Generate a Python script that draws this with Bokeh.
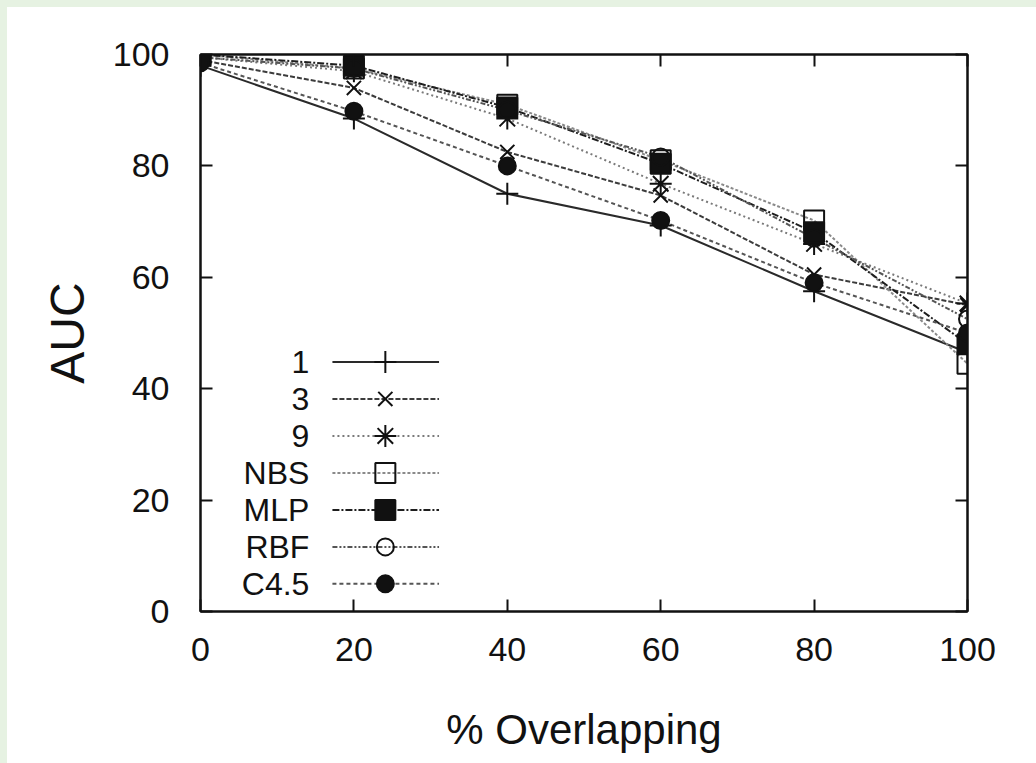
from bokeh.plotting import figure
from bokeh.models import Range1d, LinearAxis, FixedTicker, CustomJSTickFormatter, Spacer
from bokeh.layouts import row, column
from bokeh.core.properties import value
from bokeh.embed import file_html
from bokeh.resources import INLINE

# ---- data ----
overlap = [0, 20, 40, 60, 80, 100]
series_names = ["1", "3", "9", "NBS", "MLP", "RBF", "C4.5"]
auc_1 = [98.0, 88.5, 75.0, 69.3, 57.5, 46.5]
auc_3 = [99.0, 94.0, 82.5, 74.7, 60.5, 55.0]
auc_9 = [99.5, 97.0, 88.5, 76.8, 66.0, 55.3]
auc_nbs = [100.0, 97.5, 91.0, 81.0, 70.2, 44.5]
auc_mlp = [100.0, 98.0, 90.5, 80.4, 68.1, 48.0]
auc_rbf = [99.5, 97.5, 90.0, 81.6, 67.0, 52.5]
auc_c45 = [98.5, 89.8, 80.0, 70.2, 59.0, 50.0]
x_ticks = [0, 20, 40, 60, 80, 100]
y_ticks = [0, 20, 40, 60, 80, 100]

series_values = [auc_1, auc_3, auc_9, auc_nbs, auc_mlp, auc_rbf, auc_c45]

# ---- styles ----
styles = [
    dict(color="#2a2a2a", dash="solid", marker="cross", size=22, fill=True),
    dict(color="#3c3c3c", dash="5 2", marker="x", size=20, fill=True),
    dict(color="#7a7a7a", dash="2 3", marker="asterisk", size=22, fill=True),
    dict(color="#8a8a8a", dash="3 2", marker="square", size=20, fill=False),
    dict(color="#1e1e1e", dash="7 2 2 2", marker="square", size=20, fill=True),
    dict(color="#555555", dash="5 2 2 2 2 2", marker="circle", size=17, fill=False),
    dict(color="#555555", dash="4 3", marker="circle", size=17, fill=True),
]

FONT = "Liberation Sans"
EDGE = 7
BG = "#e6f2e2"

p = figure(width=1036 - EDGE, height=763 - EDGE, output_backend="svg", toolbar_location=None,
           x_range=Range1d(0, 100), y_range=Range1d(0, 100),
           min_border_left=200 - EDGE, min_border_right=69, min_border_top=54 - EDGE,
           min_border_bottom=152,
           x_axis_label="% Overlapping", y_axis_label="AUC")
p.background_fill_color = "white"
p.border_fill_color = "white"
p.grid.visible = False
p.outline_line_color = "#111111"
p.outline_line_width = 2

for ax, ticks in ((p.xaxis[0], x_ticks), (p.yaxis[0], y_ticks)):
    ax.ticker = FixedTicker(ticks=ticks)
    ax.major_tick_in = 12
    ax.major_tick_out = 0
    ax.minor_tick_line_color = None
    ax.axis_line_width = 2
    ax.major_tick_line_width = 2
    ax.axis_line_color = "#111111"
    ax.major_tick_line_color = "#111111"
    ax.major_label_text_font = FONT
    ax.major_label_text_font_size = "34px"
    ax.major_label_text_color = "#111111"
    ax.axis_label_text_font = FONT
    ax.axis_label_text_font_style = "normal"
    ax.axis_label_text_color = "#111111"
p.xaxis[0].major_label_standoff = 26
p.yaxis[0].major_label_standoff = 31
p.xaxis[0].axis_label_text_font_size = "42px"
p.yaxis[0].axis_label_text_font_size = "48px"
p.xaxis[0].axis_label_standoff = 42
p.yaxis[0].axis_label_standoff = 16

# mirrored ticks on top and right
for loc, ticks in (("right", y_ticks), ("above", x_ticks)):
    ax = LinearAxis(ticker=FixedTicker(ticks=ticks),
                    formatter=CustomJSTickFormatter(code="return ''"))
    ax.major_tick_in = 12
    ax.major_tick_out = 0
    ax.minor_tick_line_color = None
    ax.axis_line_width = 2
    ax.major_tick_line_width = 2
    ax.axis_line_color = "#111111"
    ax.major_tick_line_color = "#111111"
    ax.major_label_standoff = 0
    ax.major_label_text_font_size = "1px"
    p.add_layout(ax, loc)

# series
for vals, st in zip(series_values, styles):
    p.line(overlap, vals, line_color=st["color"], line_width=2, line_dash=st["dash"])
for vals, st in zip(series_values, styles):
    p.scatter(overlap, vals, marker=st["marker"], size=st["size"],
              line_color="#111111", line_width=2,
              fill_color="#111111" if st["fill"] else None)

# legend (gnuplot style: label right-aligned, then sample)
leg_top = 44.8
leg_step = 6.64
lx0, lx1, mx, tx = 17.2, 31.1, 24.1, 14.2
for i, (name, st) in enumerate(zip(series_names, styles)):
    yy = leg_top - i * leg_step
    p.line([lx0, lx1], [yy, yy], line_color=st["color"], line_width=2, line_dash=st["dash"])
    p.scatter([mx], [yy], marker=st["marker"], size=st["size"], line_color="#111111",
              line_width=2, fill_color="#111111" if st["fill"] else None)
    p.text([tx], [yy], text=[name], text_align="right", text_baseline="middle",
           text_font=value(FONT), text_font_size="32px", text_color="#111111")

# light green page edges of the screenshot
left_edge = Spacer(width=EDGE, height=763, styles={"background-color": BG})
top_edge = Spacer(width=1036 - EDGE, height=EDGE, styles={"background-color": BG})
layout = row(left_edge, column(top_edge, p, spacing=0), spacing=0)

open("out.html", "w").write(file_html(layout, INLINE))
